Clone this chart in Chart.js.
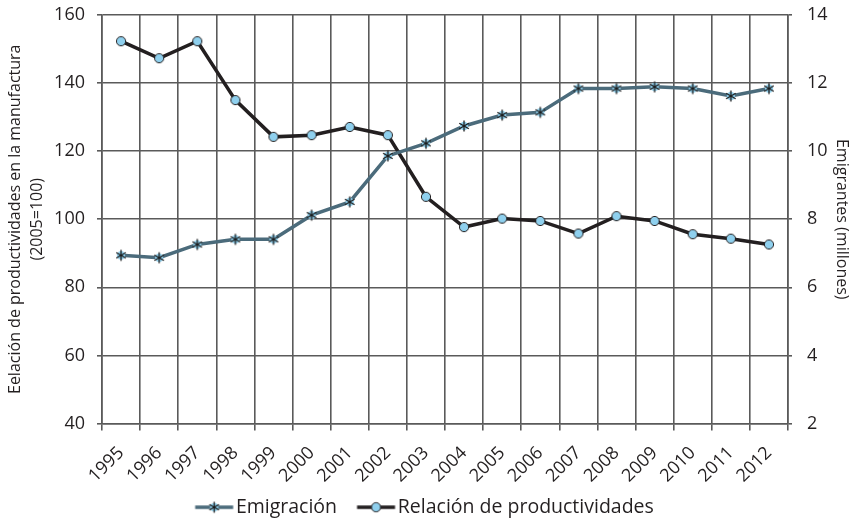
<!DOCTYPE html>
<html>
<head>
<meta charset="utf-8">
<script src="https://cdn.jsdelivr.net/npm/chart.js@4.4.1/dist/chart.umd.min.js"></script>
<style>
  html, body { margin: 0; padding: 0; background: #fff; }
</style>
</head>
<body>
<canvas id="chart" width="853" height="521"></canvas>
<script>
// Data
const years = ['1995', '1996', '1997', '1998', '1999', '2000', '2001', '2002', '2003',
               '2004', '2005', '2006', '2007', '2008', '2009', '2010', '2011', '2012'];

// millones de emigrantes (eje derecho)
const emigracion = [6.94, 6.87, 7.26, 7.41, 7.41, 8.12, 8.51, 9.86, 10.23,
                    10.74, 11.06, 11.14, 11.84, 11.84, 11.89, 11.84, 11.62, 11.84];

// relación de productividades, 2005=100 (eje izquierdo)
const productividades = [152.3, 147.3, 152.3, 135.0, 124.2, 124.7, 127.1, 124.7, 106.6,
                         97.7, 100.2, 99.5, 95.8, 100.9, 99.5, 95.6, 94.3, 92.6];

const FONT = '"Open Sans", "Noto Sans", sans-serif';
const TEXT = '#231f20';
const GRID = '#5a5a5a';
const SLATE = '#4b6b7b';
const DARK = '#231f20';
const LIGHT_BLUE = '#8fd0ee';

// asterisk marker over a light blue dot
function drawAsterisk(ctx, cx, cy) {
    ctx.fillStyle = LIGHT_BLUE;
    ctx.beginPath();
    ctx.arc(cx, cy, 4.2, 0, Math.PI * 2);
    ctx.fill();
    ctx.strokeStyle = '#1a1a1a';
    ctx.lineWidth = 1.3;
    const r = 5.5;
    for (let a = 0; a < 3; a++) {
        const ang = Math.PI / 2 + a * Math.PI / 3;
        ctx.beginPath();
        ctx.moveTo(cx + r * Math.cos(ang), cy + r * Math.sin(ang));
        ctx.lineTo(cx - r * Math.cos(ang), cy - r * Math.sin(ang));
        ctx.stroke();
    }
}

function drawDot(ctx, cx, cy) {
    ctx.fillStyle = LIGHT_BLUE;
    ctx.strokeStyle = DARK;
    ctx.lineWidth = 1;
    ctx.beginPath();
    ctx.arc(cx, cy, 4.6, 0, Math.PI * 2);
    ctx.fill();
    ctx.stroke();
}

function makeMarker(drawFn) {
    const c = document.createElement('canvas');
    c.width = 14;
    c.height = 14;
    drawFn(c.getContext('2d'), 7, 7);
    return c;
}

// legend symbol: the image is centred on the legend box, so the line sits
// in its right part to leave a wider gap before it and a small one after
function makeLegendSymbol(color, drawFn) {
    const c = document.createElement('canvas');
    c.width = 58;
    c.height = 14;
    const ctx = c.getContext('2d');
    ctx.strokeStyle = color;
    ctx.lineWidth = 3.5;
    ctx.beginPath();
    ctx.moveTo(18.5, 7);
    ctx.lineTo(56.5, 7);
    ctx.stroke();
    drawFn(ctx, 37.5, 7);
    return c;
}

const starMarker = makeMarker(drawAsterisk);
const dotMarker = makeMarker(drawDot);
const legendSymbols = [
    makeLegendSymbol(SLATE, drawAsterisk),
    makeLegendSymbol(DARK, drawDot)
];

// fixed width, and don't let tick padding push the plot area down
function fitYAxis(width) {
    return (scale) => {
        scale.width = width;
        scale.paddingTop = 10;
        scale.paddingBottom = 10;
    };
}

const ctx = document.getElementById('chart').getContext('2d');
const chart = new Chart(ctx, {
    type: 'line',
    data: {
        labels: years,
        datasets: [
            {
                label: 'Emigración',
                data: emigracion,
                yAxisID: 'yRight',
                borderColor: SLATE,
                borderWidth: 3.5,
                pointStyle: starMarker,
                tension: 0
            },
            {
                label: 'Relación de productividades',
                data: productividades,
                yAxisID: 'yLeft',
                borderColor: DARK,
                borderWidth: 3.5,
                pointStyle: dotMarker,
                tension: 0
            }
        ]
    },
    options: {
        responsive: false,
        animation: false,
        devicePixelRatio: 1,
        layout: {
            padding: { top: 15, left: 0, right: 14, bottom: -6 }
        },
        plugins: {
            tooltip: { enabled: false },
            legend: {
                position: 'bottom',
                labels: {
                    usePointStyle: true,
                    pointStyleWidth: 41,
                    padding: 10,
                    color: TEXT,
                    font: { family: FONT, size: 19.5 },
                    generateLabels: (ch) => ch.data.datasets.map((ds, i) => ({
                        text: ds.label,
                        pointStyle: legendSymbols[i],
                        fontColor: TEXT,
                        datasetIndex: i,
                        hidden: false,
                        lineWidth: 0
                    }))
                }
            }
        },
        scales: {
            x: {
                offset: true,
                grid: {
                    offset: true,
                    color: GRID,
                    lineWidth: 1.6,
                    tickLength: 7
                },
                border: { color: GRID, width: 1.6 },
                ticks: {
                    minRotation: 45,
                    maxRotation: 45,
                    autoSkip: false,
                    padding: 12,
                    color: TEXT,
                    font: { family: FONT, size: 18 }
                },
                afterFit: (scale) => { scale.height = 64; }
            },
            yLeft: {
                position: 'left',
                min: 40,
                max: 160,
                ticks: {
                    stepSize: 20,
                    padding: 12,
                    color: TEXT,
                    font: { family: FONT, size: 18 }
                },
                grid: { color: GRID, lineWidth: 1.6, tickLength: 5 },
                border: { color: GRID, width: 1.6 },
                title: {
                    display: true,
                    text: ['Eelación de productividades en la manufactura', '(2005=100)'],
                    color: TEXT,
                    font: { family: FONT, size: 16, lineHeight: 1.375 },
                    padding: { top: 4, bottom: 0 }
                },
                afterFit: fitYAxis(102)
            },
            yRight: {
                position: 'right',
                min: 2,
                max: 14,
                ticks: {
                    stepSize: 2,
                    padding: 15,
                    color: TEXT,
                    font: { family: FONT, size: 18 }
                },
                grid: { drawOnChartArea: false, color: GRID, lineWidth: 1.6, tickLength: 4 },
                border: { color: GRID, width: 1.6 },
                title: {
                    display: true,
                    text: 'Emigrantes (millones)',
                    color: TEXT,
                    font: { family: FONT, size: 16 },
                    padding: { top: -12.6, bottom: 0 }
                },
                afterFit: fitYAxis(51)
            }
        }
    }
});
</script>
</body>
</html>
